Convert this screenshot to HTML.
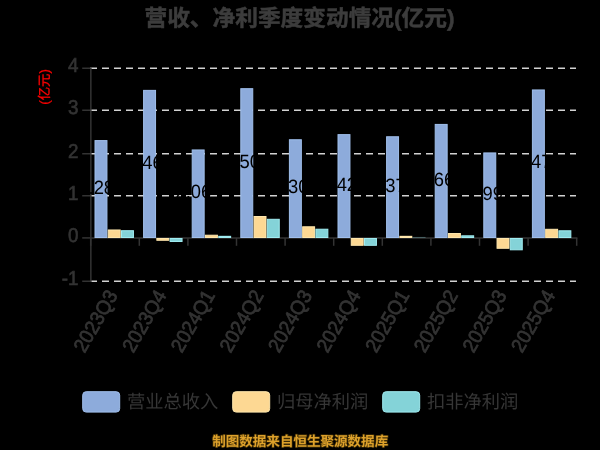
<!DOCTYPE html>
<html lang="zh"><head><meta charset="utf-8"><title>营收、净利季度变动情况(亿元)</title>
<style>html,body{margin:0;padding:0;background:#000;}body{width:600px;height:450px;overflow:hidden;font-family:"Liberation Sans",sans-serif;}svg{display:block}svg text{text-rendering:geometricPrecision}</style>
</head><body>
<svg width="600" height="450" viewBox="0 0 600 450">
<rect width="600" height="450" fill="#000"/>
<g style="will-change:transform">
<text x="144.5" y="26" font-family='"Liberation Sans", "Noto Sans CJK SC", sans-serif' font-size="22.7" font-weight="bold" fill="#3c3c3c" stroke="#3c3c3c" stroke-width="0.5" stroke-linejoin="round" textLength="310" lengthAdjust="spacing">营收、净利季度变动情况(亿元)</text>
<g stroke="#d2d2d2" stroke-width="1.5" stroke-dasharray="7 5" fill="none">
<line x1="90" y1="281.25" x2="576" y2="281.25"/>
<line x1="90" y1="195.75" x2="576" y2="195.75"/>
<line x1="90" y1="153.75" x2="576" y2="153.75"/>
<line x1="90" y1="110.25" x2="576" y2="110.25"/>
<line x1="90" y1="68.25" x2="576" y2="68.25"/>
</g>
<g stroke="#333333" stroke-width="1.5" fill="none">
<line x1="90.85" y1="67.50" x2="90.85" y2="282.00"/>
<line x1="82.2" y1="281.25" x2="90.2" y2="281.25"/>
<line x1="82.2" y1="237.90" x2="90.2" y2="237.90"/>
<line x1="82.2" y1="195.75" x2="90.2" y2="195.75"/>
<line x1="82.2" y1="153.75" x2="90.2" y2="153.75"/>
<line x1="82.2" y1="110.25" x2="90.2" y2="110.25"/>
<line x1="82.2" y1="68.25" x2="90.2" y2="68.25"/>
</g>
<g stroke="#333333" stroke-width="1.5" fill="none">
<line x1="90" y1="237.90" x2="577.4" y2="237.90"/>
<line x1="90.70" y1="237.90" x2="90.70" y2="245.80"/>
<line x1="139.30" y1="237.90" x2="139.30" y2="245.80"/>
<line x1="187.90" y1="237.90" x2="187.90" y2="245.80"/>
<line x1="236.50" y1="237.90" x2="236.50" y2="245.80"/>
<line x1="285.10" y1="237.90" x2="285.10" y2="245.80"/>
<line x1="333.70" y1="237.90" x2="333.70" y2="245.80"/>
<line x1="382.30" y1="237.90" x2="382.30" y2="245.80"/>
<line x1="430.90" y1="237.90" x2="430.90" y2="245.80"/>
<line x1="479.50" y1="237.90" x2="479.50" y2="245.80"/>
<line x1="528.10" y1="237.90" x2="528.10" y2="245.80"/>
<line x1="576.70" y1="237.90" x2="576.70" y2="245.80"/>
</g>
<rect x="95.00" y="140.59" width="11.95" height="96.91" fill="#8dabdb" stroke="#a0bfec" stroke-width="1"/>
<rect x="108.25" y="229.98" width="11.95" height="7.52" fill="#fdd893" stroke="#ffe7ad" stroke-width="1"/>
<rect x="121.50" y="230.71" width="11.95" height="6.79" fill="#84d3d8" stroke="#a0ecf1" stroke-width="1"/>
<rect x="143.60" y="90.38" width="11.95" height="147.12" fill="#8dabdb" stroke="#a0bfec" stroke-width="1"/>
<rect x="156.85" y="238.50" width="11.95" height="1.78" fill="#fdd893" stroke="#ffe7ad" stroke-width="1"/>
<rect x="170.10" y="238.50" width="11.95" height="3.01" fill="#84d3d8" stroke="#a0ecf1" stroke-width="1"/>
<rect x="192.20" y="149.95" width="11.95" height="87.55" fill="#8dabdb" stroke="#a0bfec" stroke-width="1"/>
<rect x="205.45" y="235.22" width="11.95" height="2.28" fill="#fdd893" stroke="#ffe7ad" stroke-width="1"/>
<rect x="218.20" y="235.82" width="12.95" height="2.18" fill="#a0ecf1" opacity="1"/>
<rect x="240.80" y="88.68" width="11.95" height="148.82" fill="#8dabdb" stroke="#a0bfec" stroke-width="1"/>
<rect x="254.05" y="216.50" width="11.95" height="21.00" fill="#fdd893" stroke="#ffe7ad" stroke-width="1"/>
<rect x="267.30" y="219.30" width="11.95" height="18.20" fill="#84d3d8" stroke="#a0ecf1" stroke-width="1"/>
<rect x="289.40" y="139.74" width="11.95" height="97.76" fill="#8dabdb" stroke="#a0bfec" stroke-width="1"/>
<rect x="302.65" y="226.79" width="11.95" height="10.71" fill="#fdd893" stroke="#ffe7ad" stroke-width="1"/>
<rect x="315.90" y="229.22" width="11.95" height="8.28" fill="#84d3d8" stroke="#a0ecf1" stroke-width="1"/>
<rect x="338.00" y="134.63" width="11.95" height="102.87" fill="#8dabdb" stroke="#a0bfec" stroke-width="1"/>
<rect x="351.25" y="238.50" width="11.95" height="6.80" fill="#fdd893" stroke="#ffe7ad" stroke-width="1"/>
<rect x="364.50" y="238.50" width="11.95" height="6.80" fill="#84d3d8" stroke="#a0ecf1" stroke-width="1"/>
<rect x="386.60" y="136.76" width="11.95" height="100.74" fill="#8dabdb" stroke="#a0bfec" stroke-width="1"/>
<rect x="399.35" y="235.82" width="12.95" height="2.18" fill="#ffe7ad" opacity="1"/>
<rect x="412.60" y="236.93" width="12.95" height="1.07" fill="#a0ecf1" opacity="0.3"/>
<rect x="435.20" y="124.42" width="11.95" height="113.08" fill="#8dabdb" stroke="#a0bfec" stroke-width="1"/>
<rect x="448.45" y="233.52" width="11.95" height="3.98" fill="#fdd893" stroke="#ffe7ad" stroke-width="1"/>
<rect x="461.70" y="235.81" width="11.95" height="1.69" fill="#84d3d8" stroke="#a0ecf1" stroke-width="1"/>
<rect x="483.80" y="152.93" width="11.95" height="84.57" fill="#8dabdb" stroke="#a0bfec" stroke-width="1"/>
<rect x="497.05" y="238.50" width="11.95" height="9.78" fill="#fdd893" stroke="#ffe7ad" stroke-width="1"/>
<rect x="510.30" y="238.50" width="11.95" height="11.31" fill="#84d3d8" stroke="#a0ecf1" stroke-width="1"/>
<rect x="532.40" y="89.95" width="11.95" height="147.55" fill="#8dabdb" stroke="#a0bfec" stroke-width="1"/>
<rect x="545.65" y="229.30" width="11.95" height="8.20" fill="#fdd893" stroke="#ffe7ad" stroke-width="1"/>
<rect x="558.90" y="230.79" width="11.95" height="6.71" fill="#84d3d8" stroke="#a0ecf1" stroke-width="1"/>
<g font-family='"Liberation Sans", sans-serif' font-size="18.4" fill="#000" text-anchor="end">
<text transform="translate(114.10 193.69) scale(1 1.05)">2.28</text>
<text transform="translate(162.70 168.59) scale(1 1.05)">3.46</text>
<text transform="translate(211.30 198.37) scale(1 1.05)">2.06</text>
<text transform="translate(259.90 167.74) scale(1 1.05)">3.50</text>
<text transform="translate(308.50 193.27) scale(1 1.05)">2.30</text>
<text transform="translate(357.10 190.71) scale(1 1.05)">2.42</text>
<text transform="translate(405.70 191.78) scale(1 1.05)">2.37</text>
<text transform="translate(454.30 185.61) scale(1 1.05)">2.66</text>
<text transform="translate(502.90 199.86) scale(1 1.05)">1.99</text>
<text transform="translate(551.50 168.38) scale(1 1.05)">3.47</text>
</g>
<g font-family='"Liberation Sans", sans-serif' font-size="18.8" fill="#333333" stroke="#333333" stroke-width="0.6" text-anchor="end">
<text transform="translate(78.5 285.35) scale(1 1.07)">-1</text>
<text transform="translate(78.5 242.00) scale(1 1.07)">0</text>
<text transform="translate(78.5 199.85) scale(1 1.07)">1</text>
<text transform="translate(78.5 157.85) scale(1 1.07)">2</text>
<text transform="translate(78.5 114.35) scale(1 1.07)">3</text>
<text transform="translate(78.5 72.35) scale(1 1.07)">4</text>
</g>
<g font-family='"Liberation Sans", sans-serif' font-size="19" fill="#333333" stroke="#333333" stroke-width="0.7" text-anchor="end">
<text transform="translate(118.40 295.20) rotate(-60) scale(1 1.05)">2023Q3</text>
<text transform="translate(167.00 295.20) rotate(-60) scale(1 1.05)">2023Q4</text>
<text transform="translate(215.60 295.20) rotate(-60) scale(1 1.05)">2024Q1</text>
<text transform="translate(264.20 295.20) rotate(-60) scale(1 1.05)">2024Q2</text>
<text transform="translate(312.80 295.20) rotate(-60) scale(1 1.05)">2024Q3</text>
<text transform="translate(361.40 295.20) rotate(-60) scale(1 1.05)">2024Q4</text>
<text transform="translate(410.00 295.20) rotate(-60) scale(1 1.05)">2025Q1</text>
<text transform="translate(458.60 295.20) rotate(-60) scale(1 1.05)">2025Q2</text>
<text transform="translate(507.20 295.20) rotate(-60) scale(1 1.05)">2025Q3</text>
<text transform="translate(555.80 295.20) rotate(-60) scale(1 1.05)">2025Q4</text>
</g>
<text transform="translate(49 105.40) rotate(-90)" x="0.6" y="0" font-family='"Liberation Sans", "Noto Sans CJK SC", sans-serif' font-size="13.4" fill="#ff0000" stroke="#ff0000" stroke-width="0.3">(亿元)</text>
<rect x="82.7" y="391.7" width="37" height="20.4" rx="3.5" fill="#8dabdb" stroke="#a0bfec" stroke-width="1"/>
<text x="126.9" y="408.2" font-family='"Liberation Sans", "Noto Sans CJK SC", sans-serif' font-size="18.3" fill="#363636">营业总收入</text>
<rect x="232.7" y="391.7" width="37" height="20.4" rx="3.5" fill="#fdd893" stroke="#ffe7ad" stroke-width="1"/>
<text x="276.9" y="408.2" font-family='"Liberation Sans", "Noto Sans CJK SC", sans-serif' font-size="18.3" fill="#363636">归母净利润</text>
<rect x="382.7" y="391.7" width="37" height="20.4" rx="3.5" fill="#84d3d8" stroke="#a0ecf1" stroke-width="1"/>
<text x="426.9" y="408.2" font-family='"Liberation Sans", "Noto Sans CJK SC", sans-serif' font-size="18.3" fill="#363636">扣非净利润</text>
<text x="212.2" y="446.3" font-family='"Liberation Sans", "Noto Sans CJK SC", sans-serif' font-size="13.55" font-weight="bold" fill="#dda12b" stroke="#3b2a05" stroke-width="1.6" paint-order="stroke" stroke-linejoin="round" textLength="176" lengthAdjust="spacing">制图数据来自恒生聚源数据库</text>
</g>
</svg>
</body></html>
